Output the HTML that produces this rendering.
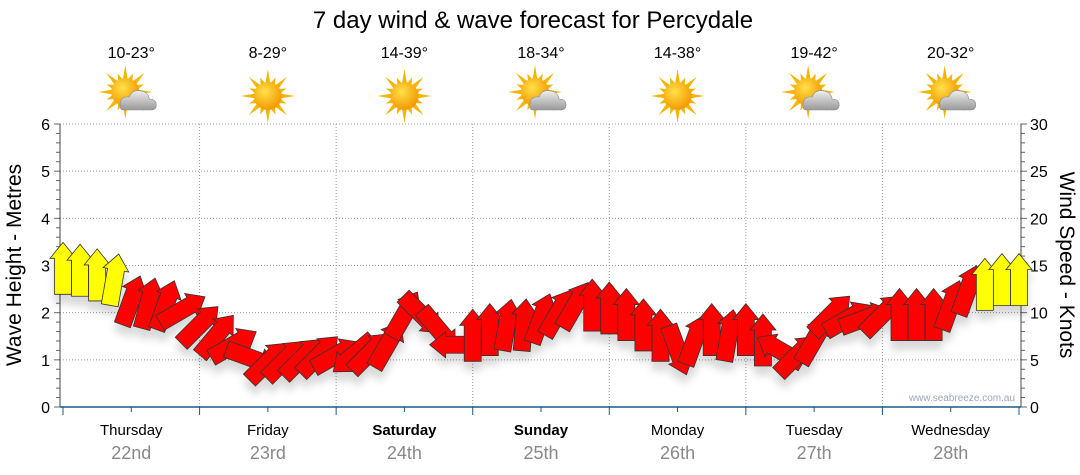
<!DOCTYPE html>
<html><head><meta charset="utf-8"><style>
body{margin:0;background:#fff;}
svg{display:block;font-family:"Liberation Sans",sans-serif;}
</style></head><body>
<svg id="chart" width="1080" height="475" viewBox="0 0 1080 475" xmlns="http://www.w3.org/2000/svg">
<defs>
<filter id="sh" x="-50%" y="-50%" width="200%" height="250%"><feDropShadow dx="0" dy="9" stdDeviation="4" flood-color="#000" flood-opacity="0.15"/></filter>
<radialGradient id="sun" cx="40%" cy="35%" r="65%"><stop offset="0" stop-color="#ffe14a"/><stop offset="1" stop-color="#f39a00"/></radialGradient>
<linearGradient id="cloud" x1="0" y1="0" x2="0" y2="1"><stop offset="0" stop-color="#eee"/><stop offset="1" stop-color="#999"/></linearGradient>
</defs>
<text x="533" y="28" font-size="24" text-anchor="middle" fill="#000">7 day wind &amp; wave forecast for Percydale</text>
<g id="grid"></g>
<g id="axes"></g>
<g id="days"></g>
<g id="arrows" filter="url(#sh)"></g>
<text x="1015" y="401" font-size="10" text-anchor="end" fill="#9aa8b8">www.seabreeze.com.au</text>
<text transform="translate(21,265) rotate(-90)" font-size="21" text-anchor="middle">Wave Height - Metres</text>
<text transform="translate(1060,265) rotate(90)" font-size="21" text-anchor="middle">Wind Speed - Knots</text>
</svg>
<script>
const days = ["Thursday","Friday","Saturday","Sunday","Monday","Tuesday","Wednesday"];
const dates = ["22nd","23rd","24th","25th","26th","27th","28th"];
const boldDays = [false,false,true,true,false,false,false];
const temps = ["10-23°","8-29°","14-39°","18-34°","14-38°","19-42°","20-32°"];
const cloudy = [true,false,false,true,false,true,true];
const waveTicks = [0,1,2,3,4,5,6];
const windTicks = [0,5,10,15,20,25,30];
const windSpeed = [14.7,14.5,14,13.5,11.3,11,10.8,10.3,8.7,7.6,6.6,5.2,4.8,5,5.2,5.5,5.5,5.5,5.8,6.6,9.8,9.8,8.2,6.6,7.6,8.2,8.7,8.7,9.4,10,10.8,10.8,10.5,9.8,8.7,7.6,6,7.1,8.2,7.6,8.2,7.1,6,5.5,7.1,9.8,9.4,9.4,9.8,9.8,9.8,9.8,10.8,12.4,13,13.5,13.5];
const windDir = [0,0,0,10,20,15,20,60,45,40,60,110,45,45,45,45,60,230,45,30,30,135,140,270,0,0,10,5,20,30,30,0,0,0,0,0,160,20,0,10,0,0,300,45,30,45,60,70,45,0,0,0,20,20,0,0,0];
const stepHours = 3;

const NS="http://www.w3.org/2000/svg";
const X0=63, X1=1019, YT=124, YB=407;
const dayW=(X1-X0)/7;
const xh=h=>X0+h/168*(X1-X0);
const yWave=v=>YB-v/6*(YB-YT);
const yWind=v=>YB-v/30*(YB-YT);
function mk(tag,attrs,parent,txt){const e=document.createElementNS(NS,tag);for(const k in attrs)e.setAttribute(k,attrs[k]);if(txt!==undefined)e.textContent=txt;parent.appendChild(e);return e;}
const grid=document.getElementById('grid'),axes=document.getElementById('axes'),dg=document.getElementById('days'),ag=document.getElementById('arrows');

waveTicks.forEach(v=>{
  if(v>0){const l=mk('line',{x1:60,x2:1021,y1:yWave(v),y2:yWave(v),stroke:'#999','stroke-dasharray':'1,2'},grid);
  
  }
  const t=mk('text',{x:50,y:yWave(v)+6,'font-size':16,'text-anchor':'end'},axes,String(v));
  
  
});
windTicks.forEach(v=>{
  const t=mk('text',{x:1030,y:yWind(v)+6,'font-size':16},axes,String(v));
  
  
});
for(let i=0;i<=30;i++){const y=YB-i*(YB-YT)/30;const w=i%5===0?6:4;
  mk('line',{x1:60-w,x2:60,y1:y,y2:y,stroke:'#666'},axes);
  mk('line',{x1:1021,x2:1021+w,y1:y,y2:y,stroke:'#666'},axes);}
mk('line',{x1:60,x2:60,y1:YT,y2:YB,stroke:'#444'},axes);
mk('line',{x1:1021,x2:1021,y1:YT,y2:YB,stroke:'#444'},axes);
mk('line',{x1:60,x2:1021,y1:YB,y2:YB,stroke:'#1a5a8a','stroke-width':1.5},axes);
for(let i=0;i<=14;i++){const x=X0+i*dayW/2;mk('line',{x1:x,x2:x,y1:YB,y2:YB+(i%2?5:8),stroke:'#1a5a8a'},axes);}

days.forEach((d,i)=>{
  const cx=X0+(i+0.5)*dayW;
  if(i>0){const l=mk('line',{x1:X0+i*dayW,x2:X0+i*dayW,y1:YT,y2:YB,stroke:'#999','stroke-dasharray':'1,2'},grid);
    
    }
  const a=mk('text',{x:cx,y:435,'font-size':15,'text-anchor':'middle','font-weight':boldDays[i]?'bold':'normal'},dg,d);
  
  
  const b=mk('text',{x:cx,y:459,'font-size':18,'text-anchor':'middle',fill:'#888'},dg,dates[i]);
  
  
  const t=mk('text',{x:cx,y:58,'font-size':16,'text-anchor':'middle'},dg,temps[i]);
  
  
  const g=mk('g',{transform:`translate(${cx},96)`},dg);
  
  
  const sx=cloudy[i]?-6:0, sy=cloudy[i]?-4:0;
  for(let k=0;k<16;k++){const ang=k*Math.PI/8;const r=k%2?20:27;
    const p=[[sx+Math.cos(ang)*r,sy+Math.sin(ang)*r],[sx+Math.cos(ang+0.18)*13,sy+Math.sin(ang+0.18)*13],[sx+Math.cos(ang-0.18)*13,sy+Math.sin(ang-0.18)*13]];
    mk('polygon',{points:p.map(q=>q.join(',')).join(' '),fill:'#f5b400'},g);}
  mk('circle',{cx:sx,cy:sy,r:14,fill:'url(#sun)'},g);
  if(cloudy[i]){
    mk('path',{d:'M-8,14 Q-12,14 -11,7 Q-10,0 -2,1 Q1,-7 10,-5 Q17,-4 18,3 Q25,3 25,9 Q25,14 19,14 Z',fill:'url(#cloud)',stroke:'#888','stroke-width':0.6},g);
  }
});

windSpeed.forEach((s,i)=>{
  const x=xh(i*stepHours), y=yWind(s);
  const col=s>=12.5?'#ffff00':'#ff0000';
  const pts="-8.5,26 -8.5,-10 -13,-10 0,-26 13,-10 8.5,-10 8.5,26";
  const p=mk('polygon',{points:pts,fill:col,stroke:'#333','stroke-width':0.8,'stroke-linejoin':'miter',transform:`translate(${x},${y}) rotate(${windDir[i]})`},ag);
  
  
});
</script>
</body></html>
